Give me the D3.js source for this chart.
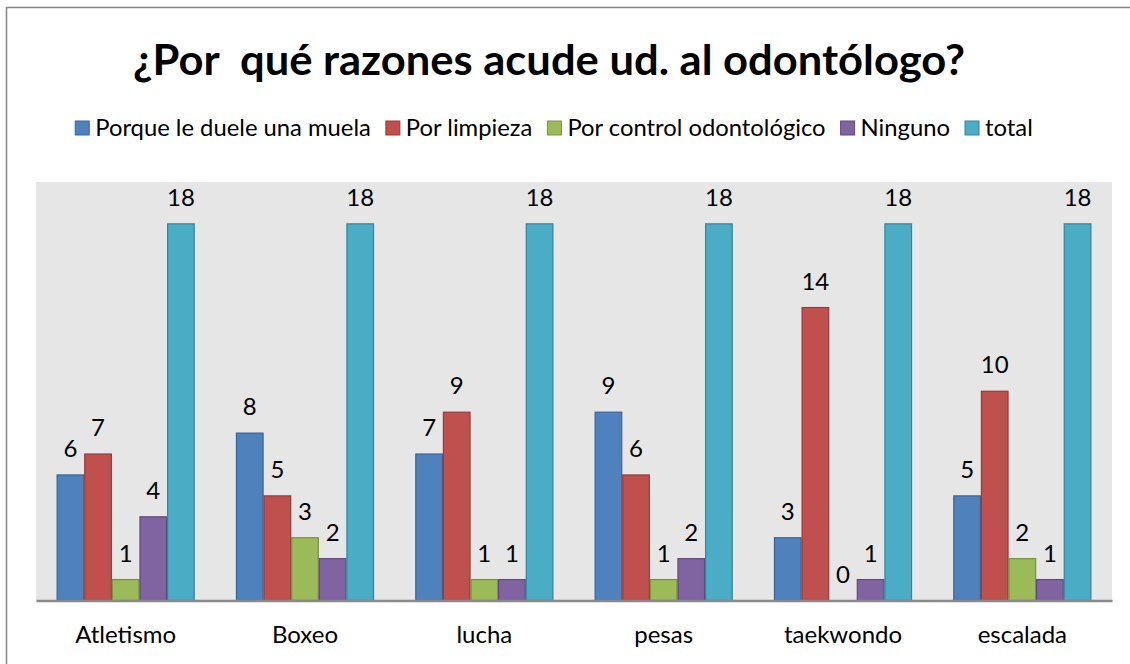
<!DOCTYPE html>
<html>
<head>
<meta charset="utf-8">
<script src="https://cdn.jsdelivr.net/npm/d3@7"></script>
<style>
    html, body { margin: 0; background: #fff; overflow: hidden; }
    svg { display: block; }
    text { font-family: Lato, "Open Sans", sans-serif; fill: #000; }
</style>
</head>
<body>
<div id="chart"></div>
<script>
// data
const categories = ["Atletismo", "Boxeo", "lucha", "pesas", "taekwondo", "escalada"];
const series = ["Porque le duele una muela", "Por limpieza", "Por control odontológico", "Ninguno", "total"];
const duele = [6, 8, 7, 9, 3, 5];
const limpieza = [7, 5, 9, 6, 14, 10];
const control = [1, 3, 1, 1, 0, 2];
const ninguno = [4, 2, 1, 2, 1, 1];
const total = [18, 18, 18, 18, 18, 18];
const seriesValues = [duele, limpieza, control, ninguno, total];

const fills = ["#4F81BD", "#C0504D", "#9BBB59", "#8064A2", "#4BACC6"];
const strokes = ["#3A6496", "#943C3A", "#76923C", "#5F4A7B", "#31859C"];

const width = 1130, height = 664;
const plot = {left: 36, right: 1112, top: 182, bottom: 600.5};

const svg = d3.select("#chart").append("svg")
    .attr("width", width)
    .attr("height", height);

// outer chart border: only the top and left edges are inside the picture
svg.append("path")
    .attr("d", "M6.5," + height + "V7.5H" + width)
    .attr("fill", "none")
    .attr("stroke", "#868686")
    .attr("stroke-width", 1.5);

// plot background
svg.append("rect")
    .attr("x", plot.left).attr("y", plot.top)
    .attr("width", plot.right - plot.left)
    .attr("height", plot.bottom - plot.top)
    .attr("fill", "#E6E6E6");

// scales
const x0 = d3.scaleBand()
    .domain(categories)
    .range([plot.left, plot.right])
    .paddingInner(0.23)
    .paddingOuter(0.115);

const x1 = d3.scaleBand()
    .domain(series)
    .range([0, x0.bandwidth()]);

const y = d3.scaleLinear()
    .domain([0, 20])
    .range([plot.bottom, plot.top]);

// rows of {cat, key, value}
const rows = [];
categories.forEach((c, i) => {
    series.forEach((s, j) => {
        rows.push({cat: c, key: s, idx: j, value: seriesValues[j][i]});
    });
});

svg.append("g").attr("class", "bars")
    .selectAll("rect")
    .data(rows)
    .join("rect")
    .attr("x", d => x0(d.cat) + x1(d.key) + 0.5)
    .attr("y", d => y(d.value))
    .attr("width", x1.bandwidth() - 1)
    .attr("height", d => y(0) - y(d.value))
    .attr("fill", d => fills[d.idx])
    .attr("stroke", d => strokes[d.idx])
    .attr("stroke-width", 1.2)
    .style("display", d => d.value === 0 ? "none" : null);

// value labels
svg.append("g").selectAll("text")
    .data(rows)
    .join("text")
    .attr("x", d => x0(d.cat) + x1(d.key) + x1.bandwidth() / 2)
    .attr("y", d => y(d.value) - 18)
    .attr("text-anchor", "middle")
    .attr("font-size", "24px")
    .text(d => d.value);

// baseline axis
const xAxis = d3.axisBottom(x0).tickSize(0).tickPadding(24);
const axisG = svg.append("g")
    .attr("transform", "translate(0," + plot.bottom + ")")
    .call(xAxis);
axisG.select(".domain")
    .attr("stroke", "#898989")
    .attr("stroke-width", 2.5);
axisG.selectAll(".tick text")
    .attr("font-size", "24px")
    .attr("font-family", "Lato, 'Open Sans', sans-serif")
    .attr("fill", "#000")
    .attr("dy", "0.75em");

// title
svg.append("text")
    .attr("x", 549)
    .attr("y", 75)
    .attr("text-anchor", "middle")
    .attr("font-size", "42px")
    .attr("font-weight", "bold")
    .attr("textLength", 832)
    .attr("lengthAdjust", "spacingAndGlyphs")
    .style("white-space", "pre")
    .text("¿Por  qué razones acude ud. al odontólogo?");

// legend, laid out in a row and centred
const legend = svg.append("g").attr("class", "legend");
const items = legend.selectAll("g")
    .data(series)
    .join("g");

items.append("rect")
    .attr("width", 14).attr("height", 14)
    .attr("y", -7)
    .attr("fill", (d, i) => fills[i])
    .attr("stroke", (d, i) => strokes[i])
    .attr("stroke-width", 1);

items.append("text")
    .attr("x", 20)
    .attr("dy", "0.35em")
    .attr("font-size", "23.8px")
    .text(d => d);

let offset = 0;
const positions = [];
items.each(function () {
    positions.push(offset);
    const w = d3.select(this).select("text").node().getComputedTextLength();
    offset += 20 + w + 15;
});
const legendWidth = offset - 15;
const legendStart = 554 - legendWidth / 2;
items.attr("transform", (d, i) => "translate(" + (legendStart + positions[i]) + ",128)");
</script>
</body>
</html>
